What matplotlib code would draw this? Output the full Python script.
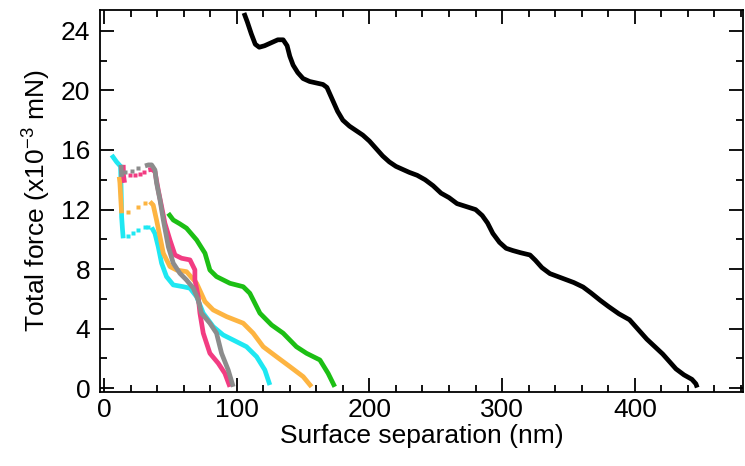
import matplotlib
matplotlib.use("Agg")
import matplotlib.pyplot as plt
from matplotlib.ticker import MultipleLocator

plt.rcParams['font.family'] = ['Liberation Sans', 'DejaVu Sans']
plt.rcParams['mathtext.default'] = 'regular'

# ---- data ----
black_x = [105.5, 108, 111, 114, 117, 121, 126, 131, 135, 138, 140, 142.5, 146, 150, 155, 160, 165, 168,
           172, 176, 180, 185, 190, 195, 200, 205, 210, 215, 220, 225, 230, 236, 242, 248, 254, 260, 266,
           273, 280, 285, 289, 293, 298, 303, 308, 314, 321, 325, 330, 336, 342, 348, 354, 361, 367, 374,
           380, 388, 396, 402, 409, 415, 421, 426, 431, 437, 443, 446, 447]
black_y = [25.2, 24.6, 23.8, 23.1, 22.9, 23.0, 23.2, 23.4, 23.4, 23.0, 22.3, 21.7, 21.2, 20.8, 20.6, 20.5,
           20.4, 20.2, 19.4, 18.6, 18.0, 17.6, 17.3, 17.0, 16.6, 16.1, 15.6, 15.2, 14.9, 14.7, 14.5, 14.3,
           14.0, 13.6, 13.1, 12.8, 12.4, 12.2, 12.0, 11.6, 11.1, 10.4, 9.8, 9.4, 9.25, 9.1, 8.95, 8.6, 8.1,
           7.7, 7.5, 7.3, 7.1, 6.8, 6.4, 5.9, 5.5, 5.0, 4.6, 4.0, 3.3, 2.8, 2.3, 1.8, 1.3, 0.9, 0.6, 0.3, 0.05]

cyan_x1 = [5.8, 9.5, 12.5, 13.0, 13.3, 14.0, 14.5]
cyan_y1 = [15.66, 15.2, 14.9, 13.0, 11.5, 10.6, 10.07]
cyan_dx = [18.3, 22.0, 25.8, 30.9, 33.5]
cyan_dy = [10.2, 10.4, 10.6, 10.8, 10.8]
cyan_x2 = [35.9, 38.4, 40.9, 43.4, 47.1, 52.2, 59.7, 64.8, 69.8, 74.8, 82.3, 89.8, 97.4, 107.4, 115, 121.2, 125]
cyan_y2 = [10.8, 10.4, 9.5, 8.4, 7.5, 6.94, 6.82, 6.72, 6.15, 5.04, 4.14, 3.58, 3.24, 2.79, 2.12, 1.23, 0.22]

orange_x1 = [11.5, 12.0, 12.8, 13.3]
orange_y1 = [14.2, 13.8, 12.5, 11.75]
orange_dx = [18.3, 25.8, 30.9]
orange_dy = [11.86, 12.2, 12.42]
orange_x2 = [34.6, 37.1, 39.6, 42.2, 44.7, 49.7, 54.7, 62.2, 69.8, 76.1, 82.3, 92.4, 104.9, 112.4, 120, 130,
             140, 150.1, 156.4]
orange_y2 = [12.53, 12.3, 11.3, 10.18, 9.07, 8.17, 7.94, 7.83, 7.05, 5.82, 5.26, 4.81, 4.37, 3.7, 2.79, 2.12,
             1.46, 0.78, 0.1]

pink_x1 = [14.5, 14.7, 15.5]
pink_y1 = [15.0, 14.3, 13.8]
pink_dx = [19.6, 23.5, 27.1, 30.5]
pink_dy = [14.3, 14.35, 14.4, 14.55]
pink_x2 = [33.4, 36.0, 38.4, 40.9, 43.4, 45.9, 49.7, 53.5, 58.5, 64.8, 68.5, 68.5, 71, 72.3, 74.8, 79.8, 86.1,
           91.1, 94.9]
pink_y2 = [14.66, 14.7, 14.55, 13.3, 12.2, 11.08, 9.96, 8.95, 8.73, 8.62, 7.95, 7.3, 6.15, 5.04, 3.7, 2.35,
           1.68, 1.0, 0.1]

gray_x1 = [12.8, 13.1, 13.3]
gray_y1 = [15.0, 14.6, 14.2]
gray_dx = [15.8, 20.8, 25.8]
gray_dy = [14.55, 14.6, 14.77]
gray_x2 = [30.9, 33.5, 35.9, 38.4, 39.6, 42.2, 44.7, 48.5, 52.2, 57.2, 62.2, 67.3, 71, 73.5, 79.8, 84.8, 88.6,
           93.6, 97.4]
gray_y2 = [14.93, 15.0, 15.0, 14.66, 13.8, 12.65, 11.3, 9.5, 8.4, 7.72, 7.27, 6.72, 5.93, 5.04, 4.37, 3.7,
           2.35, 1.23, 0.1]

green_x = [48.4, 52.2, 57.0, 62.2, 69.8, 76.1, 79.8, 84.8, 94.9, 104.9, 109.9, 117.5, 126.3, 135, 145, 152.6,
           162.7, 168.9, 173.9]
green_y = [11.75, 11.3, 11.05, 10.75, 9.96, 9.07, 7.94, 7.5, 7.05, 6.82, 6.38, 5.04, 4.25, 3.7, 2.79, 2.35,
           1.9, 1.0, 0.1]

x_major = [0, 100, 200, 300, 400]
y_major = [0, 4, 8, 12, 16, 20, 24]

c_cyan = '#1EE8F2'
c_orange = '#FDB441'
c_pink = '#F23C82'
c_gray = '#8C8C8C'
c_green = '#1CBF14'
c_black = '#000000'

fig = plt.figure(figsize=(7.45, 4.66), dpi=100)
ax = fig.add_axes([100 / 745, (466 - 392) / 466, 643 / 745, 382 / 466])

lw = 3.4
ms = 3.4
series = [
    (cyan_x1, cyan_y1, cyan_dx, cyan_dy, cyan_x2, cyan_y2, c_cyan),
    (orange_x1, orange_y1, orange_dx, orange_dy, orange_x2, orange_y2, c_orange),
    (pink_x1, pink_y1, pink_dx, pink_dy, pink_x2, pink_y2, c_pink),
    (gray_x1, gray_y1, gray_dx, gray_dy, gray_x2, gray_y2, c_gray),
]
for x1, y1, dx, dy, x2, y2, c in series:
    ax.plot(x1, y1, color=c, lw=lw, solid_capstyle='butt')
    ax.plot(dx, dy, ls='none', marker='s', ms=ms, color=c, mec='none')
    ax.plot(x2, y2, color=c, lw=lw, solid_capstyle='butt')
ax.plot(green_x, green_y, color=c_green, lw=lw, solid_capstyle='butt')
ax.plot(black_x, black_y, color=c_black, lw=lw, solid_capstyle='butt')

ax.set_xlim(-3, 481.5)
ax.set_ylim(-0.25, 25.4)
ax.set_xticks(x_major)
ax.set_yticks(y_major)
ax.xaxis.set_minor_locator(MultipleLocator(20))
ax.yaxis.set_minor_locator(MultipleLocator(2))

for s in ax.spines.values():
    s.set_linewidth(1.3)
ax.tick_params(which='both', direction='in', top=True, right=True, width=1.3, labelsize=19)
ax.tick_params(which='major', length=10)
ax.tick_params(which='minor', length=5)
ax.tick_params(axis='x', pad=4)
ax.tick_params(axis='y', pad=7)

ax.set_xlabel('Surface separation (nm)', fontsize=19, labelpad=2)
ax.set_ylabel('Total force (x10$^{-3}$ mN)', fontsize=19, labelpad=6)

fig.savefig('out.png', dpi=100)
